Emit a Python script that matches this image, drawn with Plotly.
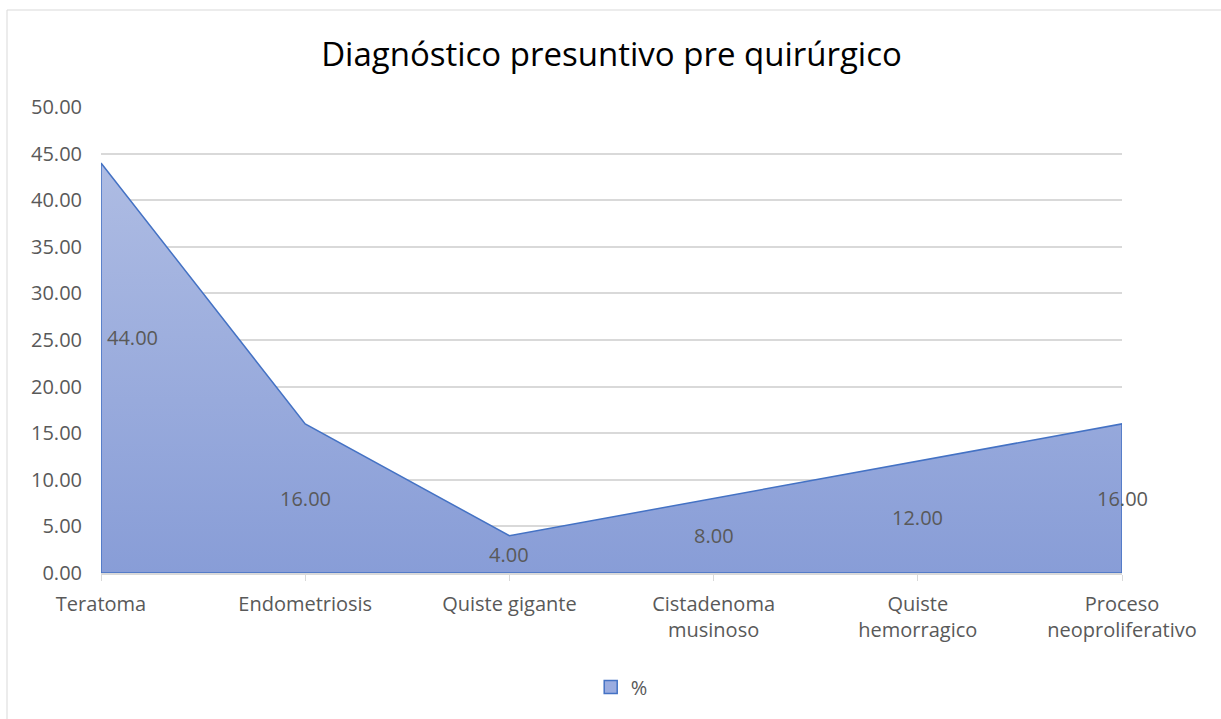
import plotly.graph_objects as go

categories = [
    "Teratoma",
    "Endometriosis",
    "Quiste gigante",
    "Cistadenoma<br>musinoso",
    "Quiste<br>hemorragico",
    "Proceso<br>neoproliferativo",
]
percent = [44.00, 16.00, 4.00, 8.00, 12.00, 16.00]

W, H = 1221, 719
L, R, T, B = 101, 99, 107, 146
pw, ph = W - L - R, H - T - B

FONT = "Open Sans"
GREY = "#595959"

fig = go.Figure()

# closed area outline, as Excel draws it (edges down to the baseline)
area_x = categories + [categories[-1], categories[0], categories[0]]
area_y = percent + [0, 0, percent[0]]

fig.add_trace(
    go.Scatter(
        x=area_x,
        y=area_y,
        name="%",
        mode="lines",
        fill="toself",
        fillgradient=dict(
            type="vertical",
            colorscale=[[0, "#889dd7"], [1, "#aebce3"]],
        ),
        line=dict(color="#4472c4", width=1.5),
        showlegend=False,
    )
)

# legend swatch only (square like Excel's area legend key)
fig.add_trace(
    go.Scatter(
        x=[None],
        y=[None],
        name="%",
        mode="markers",
        marker=dict(
            symbol="square",
            size=13,
            color="#9aace0",
            line=dict(color="#4472c4", width=1.5),
        ),
    )
)

# data labels sit at the middle of the area, like Excel does
for i, (c, v) in enumerate(zip(categories, percent)):
    fig.add_annotation(
        x=c,
        y=v / 2,
        text=f"{v:.2f}",
        showarrow=False,
        xanchor="left" if i == 0 else "center",
        xshift=4 if i == 0 else 0,
        yshift=30 if i == 0 else 0,
        font=dict(family=FONT, size=20, color=GREY),
    )

fig.add_shape(
    type="rect",
    xref="paper",
    yref="paper",
    x0=(7 - L) / pw,
    x1=(W + 20 - L) / pw,
    y0=(T + ph - (H + 20)) / ph,
    y1=(T + ph - 10) / ph,
    line=dict(color="#d9d9d9", width=1),
    layer="below",
)

fig.update_layout(
    width=W,
    height=H,
    margin=dict(l=L, r=R, t=T, b=B),
    paper_bgcolor="white",
    plot_bgcolor="white",
    font=dict(family=FONT, size=20, color=GREY),
    title=dict(
        text="Diagnóstico presuntivo pre quirúrgico",
        x=0.5,
        xref="paper",
        xanchor="center",
        y=(H - 54) / H,
        yanchor="middle",
        font=dict(family=FONT, size=33, color="black"),
    ),
    xaxis=dict(
        type="category",
        categoryorder="array",
        categoryarray=categories,
        range=[0, len(categories) - 1],
        showgrid=False,
        showline=True,
        linecolor="#d9d9d9",
        linewidth=1.5,
        ticks="outside",
        ticklen=6,
        tickcolor="#d9d9d9",
        ticklabelstandoff=6,
        tickfont=dict(family=FONT, size=20, color=GREY),
    ),
    yaxis=dict(
        range=[0, 50],
        dtick=5,
        tickformat=".2f",
        showgrid=True,
        gridcolor="#d9d9d9",
        gridwidth=1.5,
        zeroline=False,
        showline=False,
        ticklabelstandoff=18,
        tickfont=dict(family=FONT, size=20, color=GREY),
    ),
    showlegend=True,
    legend=dict(
        orientation="h",
        x=0.51,
        xanchor="center",
        y=-(687 - (T + ph)) / ph,
        yanchor="middle",
        itemwidth=30,
        font=dict(family=FONT, size=20, color=GREY),
    ),
)

fig.write_html(
    "out.html",
    config={"displayModeBar": False},
    post_script="document.body.style.margin='0';",
)
